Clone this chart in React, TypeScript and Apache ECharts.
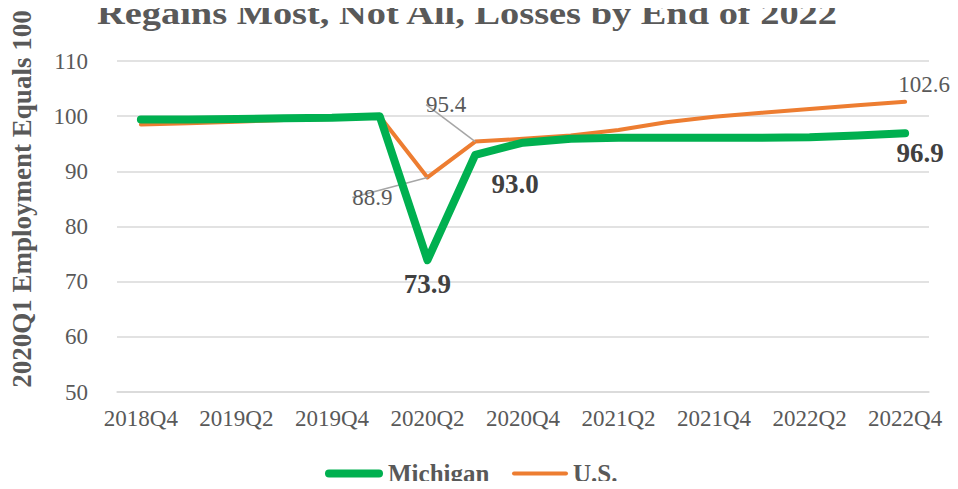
import React, { useEffect, useRef } from "react";
import * as echarts from "echarts";

const categories = [
  "2018Q4", "2019Q1", "2019Q2", "2019Q3", "2019Q4",
  "2020Q1", "2020Q2", "2020Q3", "2020Q4",
  "2021Q1", "2021Q2", "2021Q3", "2021Q4",
  "2022Q1", "2022Q2", "2022Q3", "2022Q4",
];
const michigan = [99.4, 99.4, 99.5, 99.6, 99.7, 100, 73.9, 93.0, 95.2, 95.9, 96.1, 96.1, 96.1, 96.1, 96.2, 96.5, 96.9];
const us = [98.5, 98.7, 99.0, 99.3, 99.5, 100, 88.9, 95.4, 95.9, 96.5, 97.5, 98.9, 99.9, 100.6, 101.3, 102.0, 102.6];

const titleText = "Regains Most, Not All, Losses by End of 2022";
const yAxisName = "2020Q1 Employment Equals 100";

const FONT = "'Liberation Serif', 'Times New Roman', serif";
const GREEN = "#00B050";
const ORANGE = "#ED7D31";
const GRAY = "#595959";
const DARK = "#404040";

export default function App() {
  const ref = useRef<HTMLDivElement>(null);
  useEffect(() => {
    if (!ref.current) return;
    const chart = echarts.init(ref.current, undefined, { renderer: "svg" });

    const fmt = (p: any) => Number(p.value).toFixed(1);
    const boldLabel = (offset: number[]) => ({
      show: true,
      position: "inside",
      offset,
      formatter: fmt,
      fontFamily: FONT,
      fontSize: 27,
      fontWeight: "bold",
      color: DARK,
    });
    const plainLabel = () => ({
      show: true,
      position: "inside",
      formatter: fmt,
      fontFamily: FONT,
      fontSize: 23,
      color: GRAY,
    });

    const miData = michigan.map((v, i) => {
      if (i === 6) return { value: v, label: boldLabel([0, 24]) };
      if (i === 7) return { value: v, label: boldLabel([40, 29]) };
      if (i === 16) return { value: v, label: boldLabel([15, 20]) };
      return { value: v };
    });
    const usData = us.map((v, i) => {
      if (i === 6 || i === 7) return { value: v, label: plainLabel(), labelLine: { show: true } };
      if (i === 16) return { value: v, label: plainLabel(), labelLine: { show: false } };
      return { value: v };
    });

    chart.setOption({
      animation: false,
      backgroundColor: "#ffffff",
      graphic: [
        {
          type: "text",
          x: 97,
          y: 14,
          scaleX: 1.2,
          style: {
            text: titleText,
            fontFamily: FONT,
            fontSize: 32,
            fontWeight: "bold",
            fill: GRAY,
            textAlign: "left",
            textVerticalAlign: "middle",
          },
        },
        {
          type: "text",
          x: 22,
          y: 199,
          rotation: Math.PI / 2,
          style: {
            text: yAxisName,
            fontFamily: FONT,
            fontSize: 27,
            fontWeight: "bold",
            fill: GRAY,
            textAlign: "center",
            textVerticalAlign: "middle",
          },
        },
      ],
      legend: [
        {
          data: ["Michigan"],
          left: 325,
          top: 461,
          padding: 0,
          itemWidth: 58,
          itemHeight: 8,
          icon: "path://M4,0 H54 A4,4 0 0 1 54,8 H4 A4,4 0 0 1 4,0 Z",
          textStyle: { fontFamily: FONT, fontSize: 25, fontWeight: "bold", color: GRAY },
        },
        {
          data: ["U.S."],
          left: 512,
          top: 461,
          padding: 0,
          itemWidth: 56,
          itemHeight: 4,
          icon: "path://M2,0 H54 A2,2 0 0 1 54,4 H2 A2,2 0 0 1 2,0 Z",
          textStyle: { fontFamily: FONT, fontSize: 25, fontWeight: "bold", color: GRAY },
        },
      ],
      grid: { left: 117, right: 29, top: 61, bottom: 97, containLabel: false },
      xAxis: {
        type: "category",
        data: categories,
        boundaryGap: true,
        axisLine: { lineStyle: { color: "#D9D9D9", width: 1.5 } },
        axisTick: { show: false },
        axisLabel: {
          interval: 1,
          fontFamily: FONT,
          fontSize: 23,
          color: GRAY,
          margin: 15,
        },
      },
      yAxis: {
        type: "value",
        min: 50,
        max: 110,
        interval: 10,
        axisLine: { show: false },
        axisTick: { show: false },
        axisLabel: { fontFamily: FONT, fontSize: 23, color: GRAY, margin: 29 },
        splitLine: { lineStyle: { color: "#D9D9D9", width: 1.5 } },
      },
      series: [
        {
          name: "U.S.",
          type: "line",
          data: usData,
          showSymbol: true,
          showAllSymbol: true,
          symbol: "circle",
          symbolSize: 0,
          itemStyle: { color: ORANGE },
          lineStyle: { color: ORANGE, width: 4, cap: "round", join: "round" },
          labelLine: { lineStyle: { color: "#A6A6A6", width: 1.5 } },
          labelLayout: (p: any) => {
            if (p.dataIndex === 6) return { dx: -55, dy: 20 };
            if (p.dataIndex === 7) return { dx: -29, dy: -37 };
            if (p.dataIndex === 16) return { dx: 19, dy: -17 };
            return {};
          },
          z: 2,
        },
        {
          name: "Michigan",
          type: "line",
          data: miData,
          showSymbol: true,
          showAllSymbol: true,
          symbol: "circle",
          symbolSize: 0,
          itemStyle: { color: GREEN },
          lineStyle: { color: GREEN, width: 8, cap: "round", join: "round" },
          z: 3,
        },
      ],
    });
    return () => chart.dispose();
  }, []);
  return <div ref={ref} style={{ width: 958, height: 489, margin: -8 }} />;
}
